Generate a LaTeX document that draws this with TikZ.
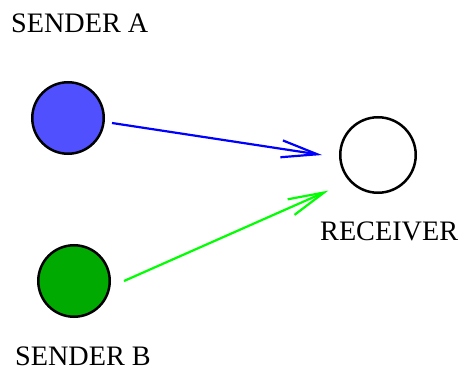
\documentclass[tikz,border=0pt]{standalone}
\usepackage{fontspec}
\setmainfont{Liberation Serif}
\usetikzlibrary{arrows.meta}
\definecolor{senderblue}{RGB}{80,80,255}
\definecolor{sendergreen}{RGB}{0,170,0}
\definecolor{linkgreen}{RGB}{0,255,0}

\begin{document}
\begin{tikzpicture}[x=1pt,y=-1pt,
    station/.style={circle,draw,line width=2.5pt,minimum size=71.5pt,inner sep=0pt},
    tag/.style={anchor=base west,inner sep=0pt,font=\fontsize{28.2}{34}\selectfont},
    link/.style={line width=2.2pt,-{Straight Barb[length=36pt,width=17pt,line width=2.2pt]}}]
            \useasboundingbox (0,0) rectangle (459,372);
            \node[tag] (tagA) at (11,33){SENDER A};
            \node[station,fill=senderblue] (A) at (68,118){};

            \node[station,minimum size=75.5pt] (R) at (378,155){};
            \node[tag] (tagR) at (320,240){RECEIVER};

            \node[station,fill=sendergreen] (B) at (74,281){};
            \node[tag] (tagB) at (15,365){SENDER B};

            \draw[link,blue] ([xshift=7pt,yshift=-5pt]A.east)--([xshift=-17pt]R.west);
            \draw[link,linkgreen] ([xshift=13pt]B.east)--([xshift=-22pt,yshift=-8pt]R.south west);
        \end{tikzpicture}
\end{document}
